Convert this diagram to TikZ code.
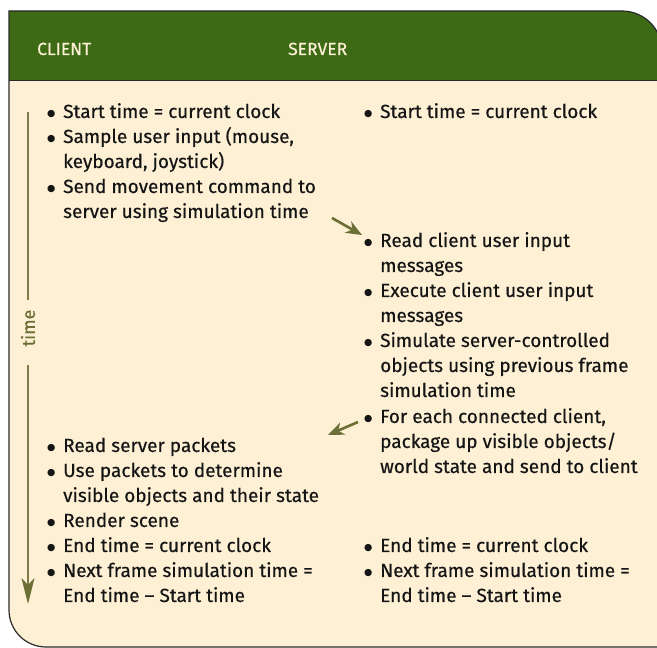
\documentclass[tikz,border=0pt]{standalone}
\usepackage{fontspec}
\setmainfont[FakeBold=0.35]{Fira Sans}
\newfontfamily\symfont{DejaVu Sans}
\usetikzlibrary{arrows.meta}
\definecolor{cream}{HTML}{FDF0D4}
\definecolor{hdrgreen}{HTML}{3D6B15}
\definecolor{olive}{HTML}{6B6E35}
\definecolor{oliveline}{HTML}{7D7C4A}
\definecolor{outline}{HTML}{2A2A2A}
\definecolor{ink}{HTML}{151515}
\newcommand{\bul}{\makebox[18pt][l]{\hspace*{2pt}\raisebox{1.6pt}{\symfont\fontsize{9.5}{9.5}\selectfont ●}}}
\newcommand{\ind}{\hspace*{18pt}}
\begin{document}
\begin{tikzpicture}[x=1pt,y=1pt,
  bodytext/.style={anchor=base west, inner sep=0pt, text=ink, font=\fontsize{19}{25}\selectfont},
  hdrtext/.style={anchor=base west, inner sep=0pt, text=cream, font=\fontsize{17.5}{25}\selectfont},
  flow/.style={draw=olive, line width=2.6pt, -{Stealth[length=16pt,width=13pt,inset=5pt]}}]
\useasboundingbox (0,0) rectangle (657,648);
\begin{scope}
\clip (0,0) rectangle (657,648);
\def\boxpath{(9,637) -- (622,637) arc[start angle=90,end angle=0,radius=40] -- (662,1) -- (46,1) arc[start angle=270,end angle=180,radius=37] -- cycle}
\fill[cream] \boxpath;
\begin{scope}
\clip \boxpath;
\fill[hdrgreen] (0,567) rectangle (670,648);
\draw[outline, line width=1pt] (0,567) -- (670,567);
\end{scope}
\draw[outline, line width=1.2pt] \boxpath;
\end{scope}

% headers
\node[hdrtext] (hclient) at (37,593) {CLIENT};
\node[hdrtext] (hserver) at (288,593) {SERVER};

% client column
\node[bodytext] (c1) at (45,530) {\parbox[t]{300pt}{\bul Start time = current clock}};
\node[bodytext] (c2) at (45,505) {\parbox[t]{300pt}{\bul Sample user input (mouse,\\ \ind keyboard, joystick)}};
\node[bodytext] (c3) at (45,455) {\parbox[t]{300pt}{\bul Send movement command to\\ \ind server using simulation time}};
\node[bodytext] (c4) at (45,196) {\parbox[t]{300pt}{\bul Read server packets}};
\node[bodytext] (c5) at (45,171) {\parbox[t]{300pt}{\bul Use packets to determine\\ \ind visible objects and their state}};
\node[bodytext] (c6) at (45,121) {\parbox[t]{300pt}{\bul Render scene}};
\node[bodytext] (c7) at (45,96) {\parbox[t]{300pt}{\bul End time = current clock}};
\node[bodytext] (c8) at (45,71) {\parbox[t]{300pt}{\bul Next frame simulation time =\\ \ind End time – Start time}};

% server column
\node[bodytext] (s1) at (362,530) {\parbox[t]{290pt}{\bul Start time = current clock}};
\node[bodytext] (s2) at (362,401) {\parbox[t]{290pt}{\bul Read client user input\\ \ind messages}};
\node[bodytext] (s3) at (362,351) {\parbox[t]{290pt}{\bul Execute client user input\\ \ind messages}};
\node[bodytext] (s4) at (362,301) {\parbox[t]{290pt}{\bul Simulate server-controlled\\ \ind objects using previous frame\\ \ind simulation time}};
\node[bodytext] (s5) at (362,225) {\parbox[t]{290pt}{\bul For each connected client,\\ \ind package up visible objects/\\ \ind world state and send to client}};
\node[bodytext] (s6) at (362,96) {\parbox[t]{290pt}{\bul End time = current clock}};
\node[bodytext] (s7) at (362,71) {\parbox[t]{290pt}{\bul Next frame simulation time =\\ \ind End time – Start time}};

% time axis
\node[rotate=90, inner sep=0pt, text=olive, font=\fontsize{18}{25}\selectfont] (timelbl) at (28,320) {time};
\coordinate (ttop) at (28,536);
\coordinate (tgap1) at (28,348);
\coordinate (tgap2) at (28,283);
\coordinate (tend) at (28,44);
\draw[oliveline, line width=1.4pt] (ttop) -- (tgap1);
\draw[oliveline, line width=1.4pt, -{Stealth[length=26pt,width=13pt,inset=7pt,fill=olive,color=olive]}] (tgap2) -- (tend);

% message arrows
\coordinate (m1a) at (332,430);
\coordinate (m1b) at (362,413);
\coordinate (m2a) at (358,226);
\coordinate (m2b) at (328,213);
\draw[flow] (m1a) -- (m1b);
\draw[flow] (m2a) -- (m2b);
\end{tikzpicture}
\end{document}
